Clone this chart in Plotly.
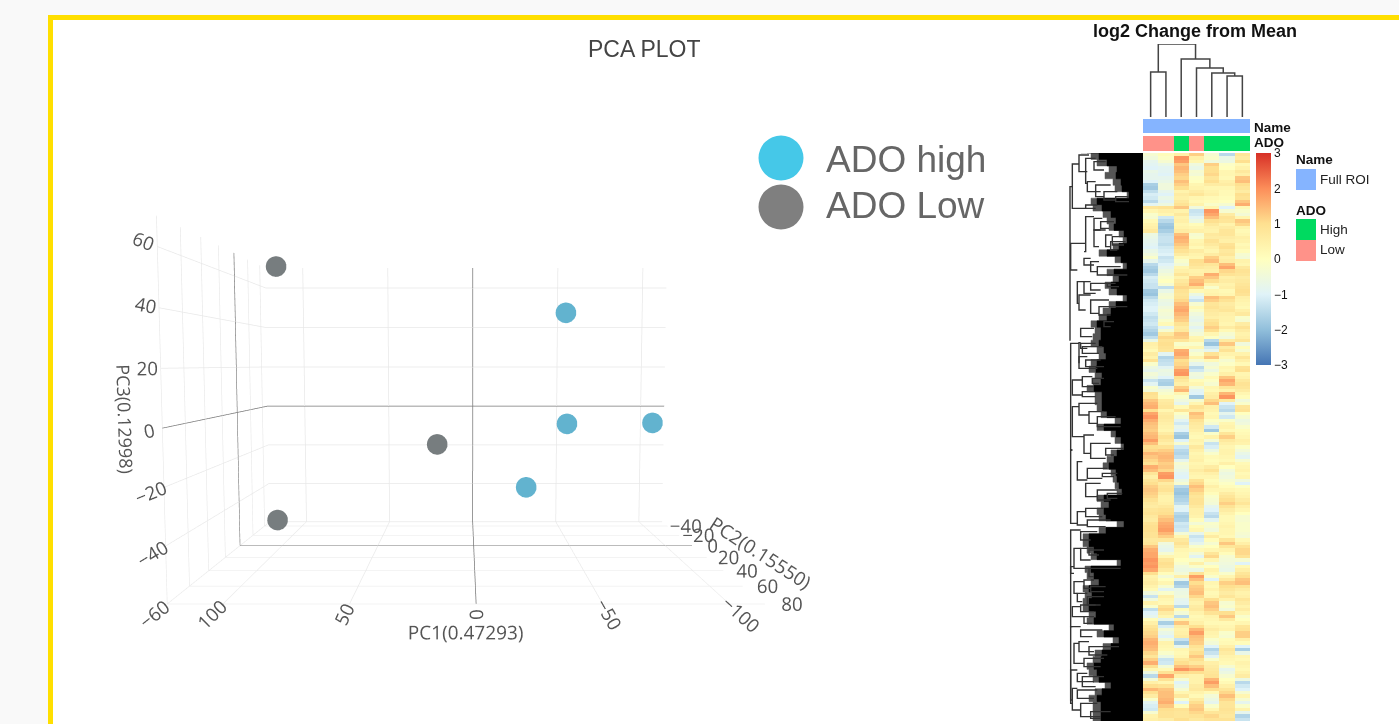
import plotly.graph_objects as go

W, H = 1399, 724

# ---------- PCA data ----------
low_pc1 = [94.8, 18.1, 96.2]
low_pc2 = [20, 20, 20]
low_pc3 = [61.6, -11.9, -43.9]
high_pc1 = [-43.8, -44.8, -86.2, -25.2]
high_pc2 = [20, 20, 20, 20]
high_pc3 = [42.7, -3.3, -2.9, -30.0]

pca_legend = ["ADO high", "ADO Low"]

# ---------- heatmap data (columns left to right, rows top to bottom) ----------
heat_upper = [
    [-0.3, 0.1, 0.5, 1.2, -0.3, -1.5, 0.8], [-0.5, -0.1, 1.9, 0.5, -0.2, -0.7, 0.6],
    [-0.8, -0.3, 1.8, 0.3, -0.5, -0.6, 1.0], [-0.9, -0.7, 1.3, -0.5, 1.2, -0.1, 0.2],
    [-1.0, -0.9, 1.5, -0.7, 1.0, 0.0, 0.4], [-0.7, -0.9, 1.4, -0.3, 1.0, 0.3, 0.7],
    [-0.8, -1.0, 1.2, -0.4, 1.1, 0.3, 0.5], [-0.8, -0.8, 1.1, -0.1, 0.8, 0.2, 1.3],
    [-1.0, -0.7, 1.4, 0.0, 1.0, 0.5, 1.4], [-1.7, -0.5, 1.2, 0.3, 0.6, 0.6, 1.0],
    [-1.8, -0.5, 1.0, 0.4, 0.3, 0.3, 0.8], [-1.4, -0.8, 0.4, 0.6, 0.4, 0.2, 0.6],
    [-1.1, -1.0, 0.6, 0.8, 0.5, 0.2, 1.0], [-1.2, -0.7, 0.5, 0.3, 0.2, 0.1, 0.9],
    [-1.5, -0.9, 0.7, 0.2, 0.1, 0.0, 1.3], [-0.9, -0.6, 0.9, 0.4, -0.2, -0.3, 1.6],
    [0.8, 0.9, 1.3, -0.5, 0.3, -1.0, 0.2], [0.3, 0.5, 0.4, -1.3, 1.9, -0.3, -0.2],
    [-0.2, 0.3, 0.7, -1.2, 1.7, 0.6, -0.4], [-0.3, -1.2, 0.4, -0.9, 1.4, 0.9, 0.3],
    [0.2, -1.5, 0.5, -0.6, 1.0, 0.8, 1.3], [0.4, -1.8, 0.3, 0.1, 0.7, 0.4, 1.1],
    [0.5, -1.9, 0.4, 0.3, 0.5, 0.6, 0.4], [0.7, -1.7, 0.6, 0.5, 0.4, 0.8, 0.2],
    [-0.6, -1.4, 1.4, -0.3, 0.7, 0.8, 0.3], [-0.7, -1.3, 1.6, -0.2, 0.6, 0.6, 0.5],
    [-0.8, -1.3, 1.5, 0.3, 0.9, 0.5, 0.4], [-0.9, -1.4, 1.3, 0.4, 0.7, 0.9, 0.2],
    [-1.0, -1.2, 1.1, 0.2, 0.5, 1.0, 0.3], [-0.7, -1.1, 0.9, 0.6, 0.3, 0.7, 0.1],
    [-0.5, -1.0, 0.6, 0.4, 0.6, 0.8, -0.3], [-0.2, -1.3, 0.2, 0.3, 1.2, 0.5, -0.4],
    [-0.8, -1.2, -0.2, 1.0, 1.4, 0.6, 0.4], [-1.5, -1.0, -0.4, 0.9, 0.8, 1.4, 0.3],
    [-1.7, -0.8, 0.3, 0.7, 0.6, 1.7, 0.7], [-1.8, -0.6, 0.5, 0.4, 0.5, 1.1, 0.9],
    [-1.5, -0.4, 0.8, 0.5, 1.6, 0.9, 0.8], [-1.1, -0.2, 0.4, 1.2, 1.3, 0.5, 0.6],
    [-1.2, 0.0, 0.7, 1.4, 1.0, 0.6, 0.7], [-1.3, -0.3, 0.9, 1.6, 0.4, 0.4, 0.8],
    [-1.3, -1.4, 1.1, 1.0, -0.2, 0.5, 0.9], [-1.8, -0.7, 0.9, 0.2, 0.3, 0.2, 1.0],
    [-1.9, -0.4, 0.8, -0.6, 0.4, 0.3, 0.9], [-1.5, -0.3, 0.9, -1.0, 1.4, 1.1, 0.5],
    [-1.2, -0.6, 1.1, -1.3, 1.2, 0.9, 0.4], [-1.1, -0.7, 1.4, -0.3, 0.8, 0.6, 0.3],
    [-1.0, -0.5, 1.6, 0.2, 0.9, 0.7, 0.2], [-1.0, -0.3, 1.7, -0.2, 0.7, 0.8, 0.5],
    [-1.2, -0.4, 1.5, -0.5, 0.6, 0.5, 0.7], [-1.4, -0.5, 1.3, -0.7, 0.5, 0.4, -0.2],
    [-1.3, -0.2, 1.2, -0.8, 0.8, 0.4, -0.3], [-1.2, 0.2, 0.9, -0.6, 1.0, 0.3, 0.6],
    [-1.4, -0.9, 0.6, -0.9, 1.2, 0.6, 0.9], [-1.6, -0.3, 0.7, -0.6, 1.0, 0.2, 0.6],
    [-1.8, 0.7, 1.3, -0.4, 0.3, -0.3, 0.4], [-1.4, 1.1, 1.2, 0.3, -0.1, -0.5, 0.5],
    [-0.7, 0.9, 0.8, 0.4, -1.5, 0.6, 0.8],
]
heat_middle = [
    [0.5, 1.0, -0.2, -0.2, -1.9, 1.3, -0.5], [0.4, 0.9, 0.2, 0.3, -1.2, 0.6, 0.1],
    [0.2, 0.8, 1.6, -0.5, -0.8, 0.9, -0.3], [0.6, -0.9, 1.7, -0.2, 0.9, 0.4, 0.4],
    [0.4, -1.6, 1.4, 0.4, 1.3, 0.2, 0.8], [0.9, -1.4, 1.0, -0.3, 0.2, -0.3, 0.5],
    [-0.2, -1.3, 1.1, -0.8, -0.5, -0.1, 0.2], [-0.6, -0.9, 1.3, -1.5, -0.3, 0.3, 0.9],
    [-0.8, -0.6, 1.8, -1.2, -0.6, 0.2, 1.0], [-0.4, -0.7, 1.9, -0.5, -0.2, 0.5, 0.3],
    [-0.6, -1.0, 1.0, -0.6, 0.2, 1.3, 0.4], [-1.3, -1.6, 0.7, 0.1, -0.1, 1.7, 0.7],
    [-0.9, -1.7, 0.5, 0.3, -0.3, 1.5, 0.9], [-0.2, -0.8, 1.2, -0.4, 0.3, 0.8, 0.8],
    [-0.4, -0.4, 1.5, -0.9, 0.2, 0.4, 0.6], [1.0, -0.2, 0.3, -1.0, 0.5, 1.5, 0.3],
    [0.9, 0.1, -0.2, -1.8, 0.6, 1.9, 0.1], [1.3, 0.6, -0.5, -0.3, 1.1, 0.7, -0.5],
    [1.5, 0.7, -0.8, 0.3, 1.4, -1.0, -0.2], [1.6, 0.8, 0.2, 0.9, 0.5, -1.3, 0.8],
    [1.0, 0.3, 0.8, 0.6, 0.4, -1.5, 0.9], [1.7, 0.6, -0.1, 1.4, 0.2, -0.8, 0.0],
    [1.9, 0.7, -0.4, 1.2, 0.3, -1.2, -0.3], [1.6, 0.6, -0.9, 0.9, -0.1, -0.2, -0.6],
    [1.4, 0.5, -1.2, 0.7, -0.3, 0.3, -0.5], [1.3, 0.4, -0.8, 0.6, -1.2, 0.4, -0.2],
    [1.2, 0.3, -1.0, 0.5, -1.8, 0.2, 0.1], [1.4, 0.6, -1.7, 0.3, -0.2, 0.8, 0.2],
    [1.5, 0.9, -1.9, 0.2, 0.4, 1.2, 0.3], [1.8, 0.7, -1.0, 0.4, -0.4, 0.7, 0.5],
    [1.4, 0.5, -0.3, 0.3, -1.3, 0.5, 0.4], [1.0, 0.9, -1.2, 0.7, -1.1, 0.3, -0.1],
    [1.1, 1.2, -1.5, 0.5, -0.6, 0.4, -0.4], [1.5, 1.4, -1.6, 0.3, -0.2, 0.4, -0.7],
    [1.3, 1.5, -1.4, 0.4, 0.2, 0.3, -0.9], [1.1, 1.4, -0.8, 0.5, 0.1, 0.2, -0.3],
    [0.9, 1.2, -0.3, 0.3, 0.2, 0.5, 0.2], [1.6, 1.3, -0.5, 0.4, 0.6, 0.0, 0.3],
    [1.4, 1.1, -0.7, 0.6, 0.9, -0.4, 0.4], [0.8, 1.8, -0.9, 0.4, 0.5, -0.6, 0.2],
    [0.5, 1.9, -1.0, 0.3, 0.3, -0.5, 0.3], [0.8, 1.1, -0.6, 0.9, 0.1, -0.3, -0.5],
    [1.0, 0.6, -0.3, 1.1, 0.2, -0.1, -1.0], [1.2, 0.8, -1.5, 1.4, 0.5, 0.1, -0.1],
    [1.3, 0.9, -1.8, 1.2, 0.3, 0.3, 0.2], [1.2, 0.6, -1.9, 1.0, 0.1, 0.6, 0.3],
    [1.1, 0.4, -1.7, 0.8, -0.2, 0.8, 0.4], [0.9, 0.4, -1.6, 0.9, -0.3, 1.0, 0.6],
    [0.7, 0.5, -1.4, 0.9, -0.4, 1.2, 0.8], [0.6, 0.7, -0.9, 0.7, -0.8, 0.9, 0.5],
    [0.8, 0.9, -1.0, 0.5, -1.0, 0.6, 0.3], [0.9, 1.0, -1.5, 0.5, -1.3, 0.4, 0.0],
    [0.7, 1.2, -1.7, 0.4, -1.5, 0.2, -0.3], [0.6, 1.4, -1.6, 0.1, -0.9, 0.2, -0.3],
    [0.9, 1.6, -1.2, -0.4, -0.2, 0.3, -0.2], [1.0, 1.7, -1.3, 0.1, -0.3, 0.4, -0.2],
]
heat_lower = [
    [1.0, 1.8, -1.2, 0.3, -0.5, 0.3, -0.2], [0.9, 1.5, -0.4, -0.8, 0.2, 0.3, -0.3],
    [0.9, 1.2, 0.3, -1.3, 0.6, 0.2, -0.4], [0.7, 0.7, 0.7, -1.1, 0.1, 0.8, 0.2],
    [0.8, -0.5, 0.9, -0.8, -0.3, 1.3, 0.5], [1.3, -0.7, 0.6, -0.2, 0.0, 0.8, 0.9],
    [1.6, -0.8, 0.3, 0.2, 0.3, 0.4, 1.1], [1.7, -0.3, 0.2, -0.4, 0.8, 0.1, 1.1],
    [1.7, 0.3, 0.2, -0.9, 1.1, -0.3, 0.9], [1.9, 0.8, 0.0, -0.2, 0.3, -0.4, -0.3],
    [1.8, 1.0, -0.2, 0.5, -0.4, -0.5, -1.0], [1.9, 0.9, -0.5, -0.2, 0.0, -0.6, 0.2],
    [1.7, 0.6, -0.6, -0.7, 0.4, -0.7, 0.5], [1.0, 0.1, -0.4, 0.9, 0.2, -0.2, 0.8],
    [0.4, -0.4, 0.5, 1.8, -0.2, 0.3, 1.0], [0.5, 0.0, -0.8, 1.4, -1.0, 0.7, 1.3],
    [0.6, 0.3, -1.8, 1.0, 0.3, 1.2, 1.4], [0.4, -0.3, -1.6, 1.2, 0.2, 1.0, 0.9],
    [0.2, -0.9, -0.7, 1.3, 0.4, 0.8, 0.6], [-0.5, -0.2, -0.6, 1.4, 0.2, 0.6, 0.4],
    [-1.3, 0.5, -0.5, 1.1, 0.3, 0.8, 0.5], [-0.5, 0.3, -0.8, 0.6, 1.0, 0.4, 0.8],
    [0.4, 0.2, -0.9, 0.4, 1.3, -0.3, 0.6], [-0.2, 0.9, -1.5, 0.6, 1.4, -0.2, 0.4],
    [-1.4, 1.1, 0.1, 0.7, 1.2, -0.5, 0.6], [-1.0, 0.6, -0.4, 0.4, 0.9, 1.0, 0.3],
    [-0.8, 0.3, -1.5, 0.2, 0.4, 1.3, -0.2], [0.1, -0.8, 0.4, 0.3, 0.3, 0.7, 0.0],
    [0.5, -1.7, 1.3, 0.5, 0.2, 0.2, 0.3], [0.8, -1.1, 0.6, 1.0, 0.4, 0.3, 0.8],
    [1.0, -0.4, 0.4, 1.5, 0.6, 0.4, 0.9], [1.1, -0.7, 0.5, 1.8, 0.4, -0.2, 1.2],
    [1.2, -1.0, 0.6, 1.4, 0.3, -0.3, 1.2], [1.5, -0.4, -1.3, 1.3, -0.2, 0.1, 0.5],
    [1.6, 0.4, -1.8, 1.2, -0.4, 0.2, 0.1], [1.5, 0.3, -0.8, 0.9, -1.0, 0.5, -1.0],
    [1.4, 0.2, 0.3, 0.7, -1.6, 0.8, -1.7], [1.1, -0.2, 0.2, 1.0, -1.3, 0.6, -0.7],
    [0.8, -0.6, 0.3, 1.3, -0.9, 0.4, 0.3], [1.2, -1.3, 0.7, 1.0, -0.2, 0.3, 0.2],
    [1.6, -1.2, 1.0, 0.7, 0.5, 0.2, 0.4], [1.0, -0.4, 1.4, 1.2, 0.6, -0.3, 0.3],
    [0.3, 0.2, 1.9, 1.6, 0.7, -0.8, 0.2], [-0.6, 0.9, 1.1, 1.0, 0.8, -0.6, 0.4],
    [-1.5, 1.7, 0.5, 0.4, 0.9, -0.3, 0.6], [-0.4, 0.9, -0.3, 0.4, 1.5, 0.0, -0.6],
    [0.5, 0.3, -1.0, 0.4, 1.8, 0.2, -1.5], [1.0, 0.9, -0.7, 0.6, 1.4, 0.5, -1.2],
    [1.5, 1.3, -0.3, 0.7, 1.0, 0.8, -1.0], [1.0, 1.4, 0.3, 0.4, 0.2, 1.1, -0.3],
    [0.6, 1.4, 0.7, 0.2, -0.4, 1.4, 0.3], [-0.2, 1.5, -0.2, 0.6, -0.6, 1.1, -0.3],
    [-0.9, 1.6, -1.0, 1.0, -0.8, 0.8, -0.8], [-1.1, 1.3, 0.1, 1.2, -0.2, 0.8, -0.2],
    [-1.2, 1.0, 0.9, 1.3, 0.3, 0.9, 0.4], [-0.3, 0.9, 0.8, 1.1, 0.8, 0.8, -0.8],
    [0.4, 0.9, 0.8, 0.9, 1.1, 0.7, -1.6], [0.5, 0.6, 1.0, 0.7, 0.9, 0.9, -1.3],
]
ado_groups = [1, 1, 0, 1, 0, 0, 0]  # 0 High, 1 Low

# column dendrogram: scipy-style merges
col_merge_a = [0, 5, 4, 3, 2, 7]
col_merge_b = [1, 6, 8, 9, 10, 11]
col_merge_h = [45, 41, 44, 49, 58, 73]

# row dendrogram: how far the dense leaves reach, top to bottom
row_reach = [56, 44, 36, 26, 27, 22, 21, 14, 46, 41, 32, 27, 29, 19, 16, 24, 36, 22, 16, 29, 24, 32, 26, 16, 27, 32, 36, 46, 42,
             42, 44, 39, 37, 46, 47, 41, 42, 49, 41, 41, 41, 36, 22, 39, 27, 22, 19, 26, 29, 34, 27, 26, 24, 21, 39, 34, 39, 37,
             19, 37, 54, 54, 49, 46, 22, 52, 49, 44, 54, 51, 54, 54, 47, 49, 29, 39, 24, 32, 41, 42, 49, 46, 44, 32, 41, 46, 42, 42]
# the thinner, greyer ends of the same leaves
row_fringe = [62, 52, 46, 34, 38, 30, 28, 16, 52, 50, 40, 36, 34, 24, 20, 30, 44, 28, 20, 36, 30, 38, 34, 20, 34, 40, 44, 52, 48,
              50, 52, 46, 44, 52, 54, 48, 50, 56, 48, 48, 46, 42, 28, 46, 32, 28, 22, 32, 36, 40, 32, 30, 28, 26, 46, 42, 46, 44,
              26, 44, 60, 60, 56, 52, 26, 58, 56, 52, 60, 58, 60, 60, 54, 56, 34, 46, 30, 40, 48, 50, 56, 54, 50, 38, 48, 54, 50, 50]

# row dendrogram branches: (height position, top leaf, bottom leaf, top tip, bottom tip)
branches_upper = [
    (35, 42, 175, 55, 75), (55, 15, 65, 85, 80), (75, 25, 100, 105, 80), (100, 35, 60, 135, 130),
    (80, 95, 125, 105, 120), (105, 105, 140, 150, 130), (130, 125, 150, 170, 165), (165, 140, 155, 205, 205),
    (28, 110, 570, 35, 30), (75, 165, 175, 110, 105), (30, 280, 360, 75, 50), (75, 200, 305, 100, 70),
    (100, 205, 240, 125, 120), (120, 215, 235, 160, 145), (100, 240, 290, 135, 115), (135, 255, 290, 155, 150),
    (155, 260, 285, 190, 190), (150, 275, 300, 195, 170), (70, 325, 345, 90, 100), (90, 335, 365, 115, 110),
    (110, 350, 375, 180, 200), (50, 395, 460, 70, 55), (70, 395, 430, 90, 105), (90, 400, 420, 140, 120),
    (140, 400, 410, 165, 175), (55, 435, 480, 90, 75), (90, 450, 490, 145, 115), (115, 470, 495, 200, 150),
    (130, 515, 530, 160, 150), (60, 535, 560, 100, 95),
]
branches_middle = [
    (30, 10, 330, 55, 35), (55, 8, 70, 60, 55), (60, 10, 25, 105, 80), (65, 20, 40, 125, 115),
    (55, 50, 85, 80, 110), (75, 60, 80, 120, 130), (35, 120, 165, 65, 65), (65, 110, 140, 95, 100),
    (95, 115, 130, 130, 115), (65, 155, 170, 100, 105), (35, 200, 290, 55, 70), (55, 190, 225, 110, 85),
    (85, 215, 250, 130, 110), (110, 230, 260, 165, 180), (70, 285, 340, 100, 90), (90, 310, 355, 150, 135),
    (135, 325, 345, 190, 160), (50, 365, 420, 65, 80), (80, 385, 415, 140, 125), (125, 400, 410, 170, 160),
    (75, 430, 470, 120, 110), (110, 450, 480, 170, 150), (140, 460, 475, 185, 170), (30, 330, 550, 35, 50),
    (50, 515, 555, 75, 80), (75, 505, 530, 130, 125), (80, 540, 560, 150, 135),
]
branches_lower = [
    (30, 0, 130, 60, 40), (60, 5, 30, 110, 90), (40, 55, 115, 60, 85), (60, 55, 90, 100, 90),
    (85, 60, 75, 130, 115), (85, 115, 140, 180, 100), (30, 110, 290, 40, 35), (40, 155, 190, 70, 50),
    (70, 150, 175, 100, 90), (90, 170, 185, 135, 130), (50, 190, 215, 80, 65), (80, 200, 225, 130, 120),
    (35, 230, 260, 60, 70), (60, 225, 245, 105, 100), (70, 260, 280, 100, 95), (30, 290, 520, 60, 35),
    (60, 300, 320, 125, 95), (40, 340, 400, 55, 70), (55, 335, 365, 85, 100), (85, 350, 375, 175, 140),
    (70, 385, 410, 130, 120), (30, 420, 510, 50, 35), (50, 430, 455, 80, 100), (65, 440, 470, 130, 105),
    (35, 475, 540, 50, 60), (50, 480, 505, 110, 100), (60, 520, 560, 110, 120), (90, 545, 565, 150, 120),
]

cb_ticks = [-3, -2, -1, 0, 1, 2, 3]
rdylbu = [[0, "#4575B4"], [1/6, "#91BFDB"], [2/6, "#E0F3F8"], [3/6, "#FFFFBF"],
          [4/6, "#FEE090"], [5/6, "#FC8D59"], [1, "#D73027"]]

# ---------- helpers ----------
def fx(p): return p / W
def fy(p): return 1 - p / H
def xdom(a, b): return [fx(a), fx(b)]
def ydom(top, bottom): return [fy(bottom), fy(top)]

SANS = "Liberation Sans, Arial, sans-serif"
HX = (1143, 1250)
fig = go.Figure()

# ---------- PCA scene ----------
fig.add_trace(go.Scatter3d(x=low_pc1, y=low_pc2, z=low_pc3, mode="markers", showlegend=False, hoverinfo="skip",
                           marker=dict(size=12, color="#777d7f", line=dict(width=0), opacity=1)))
fig.add_trace(go.Scatter3d(x=high_pc1, y=high_pc2, z=high_pc3, mode="markers", showlegend=False, hoverinfo="skip",
                           marker=dict(size=12, color="#62b3cf", line=dict(width=0), opacity=1)))

def ax3d(title, rng, ticks, size=19):
    return dict(title=dict(text=title, font=dict(size=size, color="#555")), range=rng, tickvals=ticks,
                tickfont=dict(size=15, color="#555"), gridcolor="#e8e8e8", gridwidth=1.5, zeroline=True,
                zerolinecolor="#777", zerolinewidth=1.5, showbackground=False, showline=False,
                showspikes=False, ticks="")

scene = dict(
    domain=dict(x=xdom(100, 832), y=ydom(134, 672)),
    xaxis=ax3d("PC1(0.47293)", [-114, 122], [-100, -50, 0, 50, 100]),
    yaxis=ax3d("PC2(0.15550)", [-50, 80], [-40, -20, 0, 20, 40, 60, 80]),
    zaxis=ax3d("PC3(0.12998)", [-60, 70], [-60, -40, -20, 0, 20, 40, 60], size=18),
    aspectmode="manual",
    aspectratio=dict(x=1.0, y=0.57, z=0.64),
    camera=dict(eye=dict(x=0, y=1.35, z=0.08), center=dict(x=0, y=0, z=0), up=dict(x=0, y=0, z=1),
                projection=dict(type="perspective")),
    bgcolor="rgba(0,0,0,0)",
)

# ---------- main heatmap ----------
rows = heat_upper + heat_middle + heat_lower
fig.add_trace(go.Heatmap(z=rows, xaxis="x2", yaxis="y2", zmin=-3, zmax=3, colorscale=rdylbu, hoverinfo="skip",
                         colorbar=dict(x=fx(1256), xanchor="left", y=fy(153), yanchor="top", lenmode="pixels", len=212,
                                       thicknessmode="pixels", thickness=15, xpad=0, ypad=0, outlinewidth=0,
                                       tickvals=cb_ticks, ticks="", ticklabelposition="outside",
                                       tickfont=dict(family=SANS, size=12, color="#111"))))

# annotation bars
fig.add_trace(go.Heatmap(z=[[0] * len(ado_groups)], xaxis="x3", yaxis="y3", zmin=0, zmax=1, showscale=False, hoverinfo="skip",
                         colorscale=[[0, "#85b4ff"], [1, "#85b4ff"]]))
fig.add_trace(go.Heatmap(z=[ado_groups], xaxis="x4", yaxis="y4", zmin=0, zmax=1, showscale=False, hoverinfo="skip",
                         colorscale=[[0, "#00da60"], [0.5, "#00da60"], [0.5, "#ff9289"], [1, "#ff9289"]]))

# column dendrogram
pos = {i: (float(i), 0.0) for i in range(len(ado_groups))}
dx, dy = [], []
for k, (a, b, h) in enumerate(zip(col_merge_a, col_merge_b, col_merge_h)):
    xa, ha = pos[a]
    xb, hb = pos[b]
    dx += [xa, xa, xb, xb, None]
    dy += [ha, h, h, hb, None]
    pos[len(ado_groups) + k] = ((xa + xb) / 2, h)
fig.add_trace(go.Scatter(x=dx, y=dy, mode="lines", xaxis="x5", yaxis="y5", showlegend=False, hoverinfo="skip",
                         line=dict(color="#444", width=1.5)))

# row dendrogram: dense leaves then branches
total = 568
ry = [i * total / len(row_reach) for i in range(len(row_reach) + 1)]
fig.add_trace(go.Scatter(x=row_fringe + [row_fringe[-1]], y=ry, mode="lines", xaxis="x6", yaxis="y6", showlegend=False,
                         hoverinfo="skip", fill="tozerox", fillcolor="#555", line=dict(color="#555", width=0.5, shape="hv")))
fig.add_trace(go.Scatter(x=row_reach + [row_reach[-1]], y=ry, mode="lines", xaxis="x6", yaxis="y6", showlegend=False,
                         hoverinfo="skip", fill="tozerox", fillcolor="#000", line=dict(color="#000", width=0.5, shape="hv")))
bx, by = [], []
for block, base in ((branches_upper, -3), (branches_middle, 187), (branches_lower, 377)):
    for (d, y0, y1, t0, t1) in block:
        h = (247 - d) / 3
        ht0, ht1 = (247 - t0) / 3, (247 - t1) / 3
        a, b = base + y0 / 3, base + y1 / 3
        bx += [ht0, h, h, ht1, None]
        by += [a, a, b, b, None]
fig.add_trace(go.Scatter(x=bx, y=by, mode="lines", xaxis="x6", yaxis="y6", showlegend=False, hoverinfo="skip",
                         line=dict(color="#333", width=1.4)))

hidden = dict(visible=False, fixedrange=True)
n_rows = len(rows)
n_cols = len(ado_groups)
colr = [-0.5, n_cols - 0.5]
layout_axes = dict(
    xaxis2=dict(domain=xdom(*HX), range=colr, anchor="y2", **hidden),
    yaxis2=dict(domain=ydom(153, 721), range=[n_rows - 0.5, -0.5], anchor="x2", **hidden),
    xaxis3=dict(domain=xdom(*HX), range=colr, anchor="y3", **hidden),
    yaxis3=dict(domain=ydom(119, 133), range=[-0.5, 0.5], anchor="x3", **hidden),
    xaxis4=dict(domain=xdom(*HX), range=colr, anchor="y4", **hidden),
    yaxis4=dict(domain=ydom(136, 151), range=[-0.5, 0.5], anchor="x4", **hidden),
    xaxis5=dict(domain=xdom(*HX), range=colr, anchor="y5", **hidden),
    yaxis5=dict(domain=ydom(44, 117), range=[0, 73], anchor="x5", **hidden),
    xaxis6=dict(domain=xdom(1063, 1143), range=[80, 0], anchor="y6", **hidden),
    yaxis6=dict(domain=ydom(153, 721), range=[total, 0], anchor="x6", **hidden),
)

def note(x, y, text, size, color="#000", bold=False, anchor="left"):
    return dict(x=fx(x), y=fy(y), xref="paper", yref="paper", text=f"<b>{text}</b>" if bold else text, showarrow=False,
                xanchor=anchor, yanchor="middle", font=dict(family=SANS, size=size, color=color), borderpad=0, borderwidth=0)

annotations = [
    note(644, 49, "PCA PLOT", 23, "#444", anchor="center"),
    note(1195, 31, "log2 Change from Mean", 18, "#111", True, anchor="center"),
    note(826, 159, pca_legend[0], 37, "#666"),
    note(826, 205, pca_legend[1], 37, "#666"),
    note(1254, 127, "Name", 13.5, "#111", True),
    note(1254, 143, "ADO", 13.5, "#111", True),
    note(1296, 159, "Name", 13.5, "#111", True),
    note(1320, 179, "Full ROI", 13.5, "#222"),
    note(1296, 210, "ADO", 13.5, "#111", True),
    note(1320, 229, "High", 13.5, "#222"),
    note(1320, 250, "Low", 13.5, "#222"),
]

def rect(x0, y0, x1, y1, fill, line=None, width=0):
    return dict(type="rect", xref="paper", yref="paper", x0=fx(x0), x1=fx(x1), y0=fy(y0), y1=fy(y1), fillcolor=fill,
                line=dict(color=line or fill, width=width), layer="below")

def circle(cx, cy, r, fill):
    return dict(type="circle", xref="paper", yref="paper", x0=fx(cx - r), x1=fx(cx + r), y0=fy(cy - r), y1=fy(cy + r),
                fillcolor=fill, line=dict(width=0), layer="below")

shapes = [
    rect(50.5, 17.5, 1430, 760, "#ffffff", "#ffdf00", 5),
    circle(781, 158, 22.5, "#45c8e8"),
    circle(781, 207, 22.5, "#7f7f7f"),
    rect(1296, 169, 1316, 190, "#85b4ff"),
    rect(1296, 219, 1316, 240, "#00da60"),
    rect(1296, 240, 1316, 261, "#ff9289"),
]

fig.update_layout(width=W, height=H, margin=dict(l=0, r=0, t=0, b=0), paper_bgcolor="#f9f9f9", plot_bgcolor="rgba(0,0,0,0)",
                  showlegend=False, scene=scene, annotations=annotations, shapes=shapes, **layout_axes)

fig.write_html("out.html", config=dict(displayModeBar=False),
               post_script="document.body.style.margin='0';document.body.style.overflow='hidden';document.body.style.background='#f9f9f9';")
